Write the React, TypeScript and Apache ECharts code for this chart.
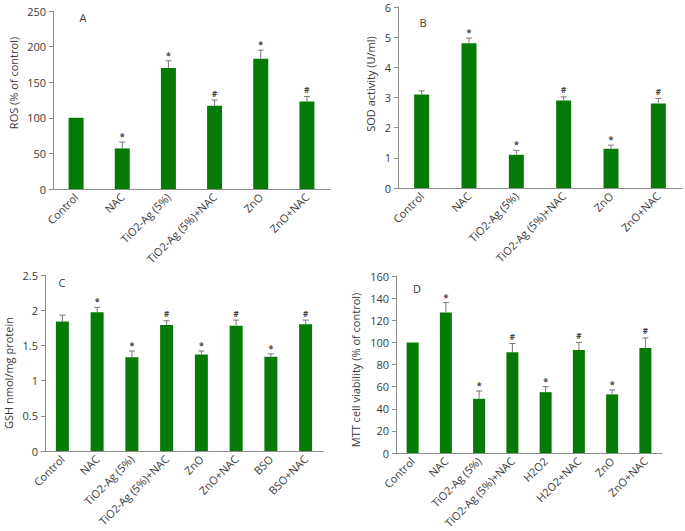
import React, { useEffect, useRef } from "react";
import * as echarts from "echarts";

const categoriesA = ["Control", "NAC", "TiO2-Ag (5%)", "TiO2-Ag (5%)+NAC", "ZnO", "ZnO+NAC"];
const valuesA = [100, 57, 170, 117, 183, 123];
const errTopA = [100, 66, 180, 125, 195, 130];
const sigA = ["", "*", "*", "#", "*", "#"];

const categoriesB = ["Control", "NAC", "TiO2-Ag (5%)", "TiO2-Ag (5%)+NAC", "ZnO", "ZnO+NAC"];
const valuesB = [3.1, 4.8, 1.1, 2.9, 1.3, 2.8];
const errTopB = [3.22, 4.97, 1.25, 3.02, 1.42, 2.97];
const sigB = ["", "*", "*", "#", "*", "#"];

const categoriesC = ["Control", "NAC", "TiO2-Ag (5%)", "TiO2-Ag (5%)+NAC", "ZnO", "ZnO+NAC", "BSO", "BSO+NAC"];
const valuesC = [1.84, 1.97, 1.33, 1.79, 1.37, 1.78, 1.34, 1.8];
const errTopC = [1.93, 2.04, 1.42, 1.85, 1.42, 1.86, 1.38, 1.86];
const sigC = ["", "*", "*", "#", "*", "#", "*", "#"];

const categoriesD = ["Control", "NAC", "TiO2-Ag (5%)", "TiO2-Ag (5%)+NAC", "H2O2", "H2O2+NAC", "ZnO", "ZnO+NAC"];
const valuesD = [100, 127, 49, 91, 55, 93, 53, 95];
const errTopD = [100, 136, 56, 99, 60, 100, 57, 104];
const sigD = ["", "*", "*", "#", "*", "#", "*", "#"];

const yNames = ["ROS (% of control)", "SOD activity (U/ml)", "GSH nmol/mg protein", "MTT cell viability (% of control)"];
const panelLetters = ["A", "B", "C", "D"];
const yRanges = [
  { max: 250, interval: 50 },
  { max: 6, interval: 1 },
  { max: 2.5, interval: 0.5 },
  { max: 160, interval: 20 },
];

const FONT = "Open Sans";
const GREEN = "#067a06";
const AXIS = "#8c8c8c";
const TEXT = "#3a3a3a";

export default function App() {
  const ref = useRef<HTMLDivElement>(null);
  useEffect(() => {
    if (!ref.current) return;
    const chart = echarts.init(ref.current, null, { renderer: "svg" });
    const panels = [
      { cats: categoriesA, vals: valuesA, errs: errTopA, sigs: sigA, barWidth: 15 },
      { cats: categoriesB, vals: valuesB, errs: errTopB, sigs: sigB, barWidth: 15 },
      { cats: categoriesC, vals: valuesC, errs: errTopC, sigs: sigC, barWidth: 13 },
      { cats: categoriesD, vals: valuesD, errs: errTopD, sigs: sigD, barWidth: 12 },
    ];
    const grids = [
      { left: 53, top: 11, width: 277, height: 178 },
      { left: 398, top: 7, width: 284, height: 181 },
      { left: 45, top: 275, width: 278, height: 176 },
      { left: 396, top: 276, width: 266, height: 177 },
    ].map((g) => ({ ...g, containLabel: false, outerBoundsMode: "none" }));
    const xAxis = panels.map((p, i) => ({
      type: "category",
      gridIndex: i,
      data: p.cats,
      axisLine: { lineStyle: { color: AXIS, width: 1 } },
      axisTick: { alignWithLabel: true, length: 4, lineStyle: { color: AXIS } },
      axisLabel: { rotate: 45, interval: 0, fontFamily: FONT, fontSize: 11, color: TEXT, margin: 6 },
    }));
    const yAxis = panels.map((p, i) => ({
      type: "value",
      gridIndex: i,
      min: 0,
      max: yRanges[i].max,
      interval: yRanges[i].interval,
      axisLine: { show: true, lineStyle: { color: AXIS, width: 1 } },
      axisTick: { show: true, length: 4, lineStyle: { color: AXIS } },
      splitLine: { show: false },
      axisLabel: { fontFamily: FONT, fontSize: 11, color: TEXT, margin: 7 },
    }));
    const series: any[] = [];
    panels.forEach((p, i) => {
      series.push({
        type: "bar",
        xAxisIndex: i,
        yAxisIndex: i,
        data: p.vals,
        barWidth: p.barWidth,
        itemStyle: { color: GREEN },
      });
      series.push({
        type: "custom",
        xAxisIndex: i,
        yAxisIndex: i,
        data: p.vals.map((v, k) => [k, v, p.errs[k]]),
        z: 5,
        renderItem: (params: any, api: any) => {
          const k = api.value(0);
          const v = api.value(1);
          const e = api.value(2);
          const s = p.sigs[k];
          const pv = api.coord([k, v]);
          const pe = api.coord([k, e]);
          const children: any[] = [];
          if (e > v) {
            children.push({
              type: "line",
              shape: { x1: pv[0], y1: pv[1], x2: pe[0], y2: pe[1] },
              style: { stroke: "#777", lineWidth: 1 },
            });
            children.push({
              type: "line",
              shape: { x1: pe[0] - 3, y1: pe[1], x2: pe[0] + 3, y2: pe[1] },
              style: { stroke: "#777", lineWidth: 1 },
            });
          }
          if (s) {
            children.push({
              type: "text",
              style: {
                text: s,
                x: pe[0],
                y: pe[1] - (s === "*" ? 1 : 3),
                textAlign: "center",
                textVerticalAlign: "bottom",
                fontFamily: FONT,
                fontSize: s === "*" ? 9 : 8,
                fontWeight: "bold",
                fill: "#444",
              },
            });
          }
          return { type: "group", children };
        },
      });
    });
    const nameSpots = [
      { x: 13, y: 83 },
      { x: 370, y: 84 },
      { x: 8, y: 373 },
      { x: 355, y: 370 },
    ];
    const letterSpots = [
      { x: 83, y: 17 },
      { x: 423, y: 22 },
      { x: 62, y: 282 },
      { x: 417, y: 288 },
    ];
    const graphic: any[] = [];
    yNames.forEach((n, i) => {
      graphic.push({
        type: "text",
        x: nameSpots[i].x,
        y: nameSpots[i].y,
        rotation: Math.PI / 2,
        style: {
          text: n,
          textAlign: "center",
          textVerticalAlign: "middle",
          fontFamily: FONT,
          fontSize: 11,
          fill: TEXT,
        },
      });
    });
    panelLetters.forEach((l, i) => {
      graphic.push({
        type: "text",
        x: letterSpots[i].x,
        y: letterSpots[i].y,
        style: {
          text: l,
          textAlign: "center",
          textVerticalAlign: "middle",
          fontFamily: FONT,
          fontSize: 11,
          fill: TEXT,
        },
      });
    });
    chart.setOption({
      animation: false,
      backgroundColor: "#ffffff",
      grid: grids,
      xAxis,
      yAxis,
      series,
      graphic,
    });
    return () => chart.dispose();
  }, []);
  return (
    <div
      ref={ref}
      style={{ position: "fixed", left: 0, top: 0, width: 685, height: 531, background: "#fff" }}
    />
  );
}
